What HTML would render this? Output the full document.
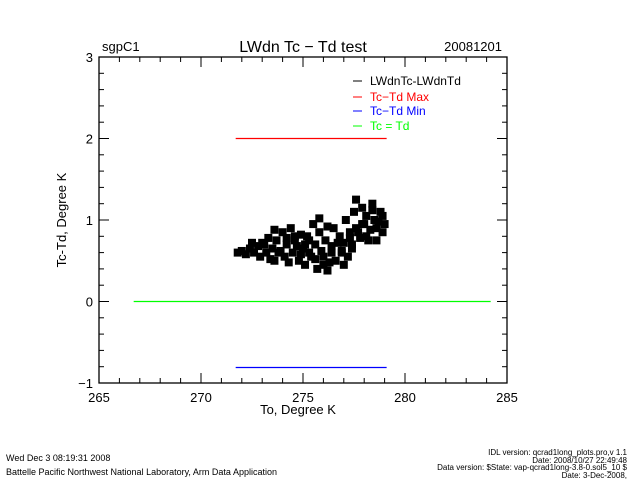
<!DOCTYPE html>
<html><head><meta charset="utf-8"><style>
body{margin:0;background:#fff;}
svg{display:block;font-family:"Liberation Sans",sans-serif;}
</style></head><body>
<svg id="c" width="640" height="480">
<text x="102" y="51" font-size="13">sgpC1</text>
<text x="303" y="52" font-size="16" text-anchor="middle">LWdn Tc − Td test</text>
<text x="502" y="51" font-size="13" text-anchor="end">20081201</text>
<text x="298" y="414" font-size="13" text-anchor="middle">To, Degree K</text>
<text transform="translate(66,220) rotate(-90)" font-size="13" text-anchor="middle">Tc-Td, Degree K</text>
<g font-size="9">
<text x="6" y="461">Wed Dec  3 08:19:31 2008</text>
<text x="6" y="475">Battelle Pacific Northwest National Laboratory, Arm Data Application</text>
<g text-anchor="end" font-size="8">
<text x="627" y="455">IDL version: qcrad1long_plots.pro,v 1.1</text>
<text x="627" y="463">Date: 2008/10/27 22:49:48</text>
<text x="627" y="470">Data version: $State: vap-qcrad1long-3.8-0.sol5_10 $</text>
<text x="627" y="478">Date: 3-Dec-2008,</text>
</g></g>
<g id="legend" font-size="12">
<line x1="353" x2="362" y1="81" y2="81" stroke="#000"/><text x="370" y="85" fill="#000">LWdnTc-LWdnTd</text>
<line x1="353" x2="362" y1="97" y2="97" stroke="#f00"/><text x="370" y="101" fill="#f00">Tc−Td Max</text>
<line x1="353" x2="362" y1="111" y2="111" stroke="#00f"/><text x="370" y="115" fill="#00f">Tc−Td Min</text>
<line x1="353" x2="362" y1="126" y2="126" stroke="#0f0"/><text x="370" y="130" fill="#0f0">Tc = Td</text>
</g>
</svg>
<script>
const xTicks=[265,270,275,280,285];
const yTicks=[-1,0,1,2,3];
const maxLine=[271.7,279.1,2.0];
const minLine=[271.7,279.1,-0.81];
const zeroLine=[266.7,284.2,0];
const tcVals=[271.8,272.0,272.2,272.4,272.6,272.8,272.9,273.0,273.2,273.3,273.5,273.6,273.7,273.9,274.0,274.1,274.2,274.4,274.5,274.6,274.8,274.9,275.0,275.1,275.2,275.3,275.5,275.6,275.7,275.8,276.0,276.1,276.2,276.4,276.5,276.6,276.8,276.9,277.0,277.1,277.3,277.4,277.5,277.6,277.8,277.9,278.0,278.1,278.3,278.4,278.5,278.6,278.8,278.9,279.0,273.4,273.8,274.3,274.7,275.4,275.9,276.3,276.7,277.2,277.7,278.2,278.7,272.5,273.1,274.6,275.1,275.6,276.0,276.4,277.0,277.4,277.9,278.4,278.9,275.8,276.2,274.9,277.6,278.1,278.6,273.6,274.2,275.3,276.9,277.3];
const diffVals=[0.6,0.62,0.58,0.65,0.6,0.68,0.55,0.72,0.6,0.78,0.65,0.5,0.75,0.62,0.85,0.55,0.7,0.9,0.6,0.75,0.5,0.82,0.65,0.45,0.8,0.6,0.95,0.7,0.4,0.85,0.55,0.75,0.38,0.68,0.9,0.5,0.8,0.6,0.72,1.0,0.85,0.65,1.1,0.9,0.78,1.15,0.95,1.05,0.88,1.2,1.0,0.9,1.1,0.85,0.95,0.52,0.6,0.48,0.68,0.55,0.62,0.48,0.72,0.55,0.85,0.75,0.98,0.72,0.7,0.8,0.7,0.52,0.45,0.6,0.45,0.7,0.95,1.12,1.05,1.02,0.92,0.58,1.25,0.8,0.75,0.88,0.78,0.75,0.62,0.78];
const svg=document.getElementById('c');
const NS='http://www.w3.org/2000/svg';
const L=99,R=507,T=57,B=383;
const sx=v=>L+(v-265)/20*(R-L);
const sy=v=>B-(v+1)/4*(B-T);
function mk(tag,a){const e=document.createElementNS(NS,tag);for(const k in a)e.setAttribute(k,a[k]);svg.appendChild(e);return e;}
const fr=mk('rect',{x:L,y:T,width:R-L,height:B-T,fill:'none',stroke:'#000','stroke-width':1.3});


for(let v=265;v<=285;v++){const major=v%5===0;const len=major?10:5;
mk('line',{x1:sx(v),x2:sx(v),y1:B,y2:B-len,stroke:'#000'});mk('line',{x1:sx(v),x2:sx(v),y1:T,y2:T+len,stroke:'#000'});}
xTicks.forEach(v=>{const t=mk('text',{x:sx(v),y:B+19,'font-size':13,'text-anchor':'middle'});t.textContent=v;

});
for(let i=-5;i<=15;i++){const v=i/5;const major=i%5===0;const len=major?10:5;
mk('line',{x1:L,x2:L+len,y1:sy(v),y2:sy(v),stroke:'#000'});mk('line',{x1:R,x2:R-len,y1:sy(v),y2:sy(v),stroke:'#000'});}
yTicks.forEach(v=>{const t=mk('text',{x:L-6,y:sy(v)+5,'font-size':13,'text-anchor':'end'});t.textContent=v<0?'−'+(-v):v;

});
function hl(a,col,name){const e=mk('line',{x1:sx(a[0]),x2:sx(a[1]),y1:sy(a[2]),y2:sy(a[2]),stroke:col,'stroke-width':1.2});

}
hl(zeroLine,'#0f0','zero-line');hl(maxLine,'#f00','max-line');hl(minLine,'#00f','min-line');
tcVals.forEach((tc,i)=>{const d=diffVals[i];
const r=mk('rect',{x:sx(tc)-4,y:sy(d)-4,width:8,height:8,fill:'#000'});

});
</script>
</body></html>
